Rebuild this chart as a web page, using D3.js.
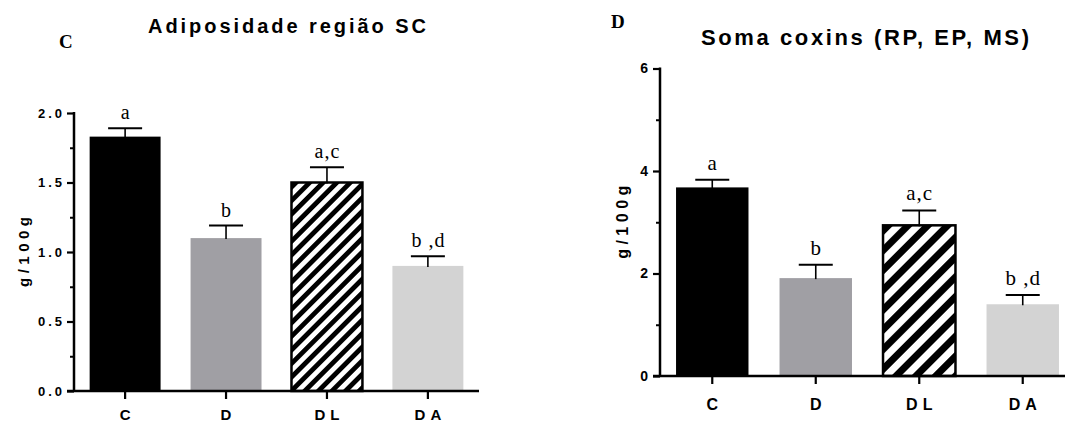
<!DOCTYPE html>
<html>
<head>
<meta charset="utf-8">
<script src="https://cdn.jsdelivr.net/npm/d3@7"></script>
<style>
  html, body { margin: 0; padding: 0; background: #fff; }
  svg { display: block; }
  .sans { font-family: "Liberation Sans", Arial, sans-serif; font-weight: bold; }
  .serif { font-family: "Liberation Serif", "Times New Roman", serif; }
</style>
</head>
<body>
<svg id="chart" width="1065" height="423"></svg>
<script>
// Groups on the x axis
const groups = ["C", "D", "DL", "DA"];

// Panel C: subcutaneous adiposity (g/100g), mean and SEM
const adiposMeans = [1.83, 1.10, 1.50, 0.90];
const adiposErr = [0.06, 0.09, 0.11, 0.07];
const adiposLetters = ["a", "b", "a,c", "b ,d"];
const adiposTicks = [0, 0.5, 1.0, 1.5, 2.0];
const adiposMinor = [0.25, 0.75, 1.25, 1.75];

// Panel D: sum of thigh-region pads RP, EP, MS (g/100g)
const coxinsMeans = [3.68, 1.91, 2.94, 1.40];
const coxinsErr = [0.15, 0.26, 0.29, 0.18];
const coxinsLetters = ["a", "b", "a,c", "b ,d"];
const coxinsTicks = [0, 2, 4, 6];
const coxinsMinor = [1, 3, 5];

const svg = d3.select("#chart");
const defs = svg.append("defs");

function hatch(id, period) {
  const p = defs.append("pattern")
    .attr("id", id)
    .attr("patternUnits", "userSpaceOnUse")
    .attr("width", period).attr("height", period)
    .attr("patternTransform", "rotate(45)");
  p.append("rect").attr("width", period).attr("height", period).attr("fill", "#fff");
  p.append("rect").attr("width", period / 2).attr("height", period).attr("fill", "#000");
}
hatch("hatchC", 9.6);
hatch("hatchD", 14);

function fills(hatchId) {
  return ["#000", "#a09fa4", `url(#${hatchId})`, "#d3d3d3"];
}

function drawPanel(o) {
  const g = svg.append("g");
  const x = d3.scaleBand().domain(groups)
    .range([o.x0, o.x1]).paddingInner(o.padIn).paddingOuter(o.padOut);
  const y = d3.scaleLinear().domain(o.domain).range([o.y0, o.y1]);
  const data = groups.map((k, i) => ({ k, v: o.means[i], e: o.errs[i], lab: o.letters[i] }));
  const fill = fills(o.hatchId);
  const cx = d => x(d.k) + x.bandwidth() / 2;

  // bars
  g.selectAll("rect.bar").data(data).join("rect")
    .attr("class", "bar")
    .attr("x", d => x(d.k))
    .attr("width", x.bandwidth())
    .attr("y", d => y(d.v))
    .attr("height", d => y(0) - y(d.v))
    .attr("fill", (d, i) => fill[i])
    .attr("stroke", (d, i) => i === 2 ? "#000" : "none")
    .attr("stroke-width", 2.5);

  // upper error bars
  const eb = g.selectAll("g.err").data(data).join("g").attr("class", "err");
  eb.append("line")
    .attr("x1", cx).attr("x2", cx)
    .attr("y1", d => y(d.v) + 1).attr("y2", d => y(d.v + d.e))
    .attr("stroke", "#000").attr("stroke-width", 1.6);
  eb.append("line")
    .attr("x1", d => cx(d) - 17).attr("x2", d => cx(d) + 17)
    .attr("y1", d => y(d.v + d.e)).attr("y2", d => y(d.v + d.e))
    .attr("stroke", "#000").attr("stroke-width", 2);

  // significance letters
  g.selectAll("text.sig").data(data).join("text")
    .attr("class", "serif sig")
    .attr("x", d => cx(d) + 0.5)
    .attr("y", d => y(d.v + d.e) - o.sigGap)
    .attr("text-anchor", "middle")
    .attr("font-size", o.sigSize)
    .attr("letter-spacing", 1)
    .text(d => d.lab);

  // y axis
  const yAxis = d3.axisLeft(y).tickValues(o.ticks).tickSize(7).tickPadding(5)
    .tickFormat(o.fmt);
  const ya = g.append("g").attr("transform", `translate(${o.x0},0)`).call(yAxis);
  ya.select(".domain").remove();
  ya.selectAll(".tick line").attr("stroke", "#000").attr("stroke-width", 2.2);
  ya.selectAll(".tick text")
    .attr("class", "sans")
    .attr("font-size", o.tickSize)
    .attr("letter-spacing", o.tickLs)
    .attr("dx", o.tickLs)
    .attr("fill", "#000");
  g.append("g").attr("transform", `translate(${o.x0},0)`)
    .call(d3.axisLeft(y).tickValues(o.minor).tickSize(4).tickFormat(""))
    .call(s => s.select(".domain").remove())
    .selectAll(".tick line").attr("stroke", "#000").attr("stroke-width", 2);
  g.append("line")
    .attr("x1", o.x0).attr("x2", o.x0)
    .attr("y1", y(o.domain[0]) + 1).attr("y2", y(o.domain[1]) - 1)
    .attr("stroke", "#000").attr("stroke-width", 2.5);

  // x axis
  g.append("line")
    .attr("x1", o.x0 - 7).attr("x2", o.x1)
    .attr("y1", y(0)).attr("y2", y(0))
    .attr("stroke", "#000").attr("stroke-width", 2.5);
  const xa = g.append("g").attr("transform", `translate(0,${y(0)})`)
    .call(d3.axisBottom(x).tickSize(8).tickPadding(0));
  xa.select(".domain").remove();
  xa.selectAll(".tick line").attr("stroke", "#000").attr("stroke-width", 2.2);
  xa.selectAll(".tick text")
    .attr("class", "sans")
    .attr("font-size", o.xSize)
    .attr("letter-spacing", o.xLs)
    .attr("dx", o.xLs / 2)
    .attr("dy", 0)
    .attr("y", o.xLabelY - y(0))
    .attr("fill", "#000");

  // y label
  g.append("text")
    .attr("class", "sans")
    .attr("transform", `translate(${o.yLabelX},${(y(o.domain[0]) + y(o.domain[1])) / 2}) rotate(-90)`)
    .attr("text-anchor", "middle")
    .attr("font-size", o.yLabelSize)
    .attr("letter-spacing", 4.5)
    .attr("dx", 2.25)
    .text("g/100g");

  // title and panel letter
  g.append("text")
    .attr("class", "sans")
    .attr("x", o.titleX).attr("y", o.titleY)
    .attr("font-size", o.titleSize)
    .attr("letter-spacing", o.titleLs)
    .text(o.title);
  g.append("text")
    .attr("class", "serif")
    .attr("font-weight", "bold")
    .attr("x", o.panelX).attr("y", o.panelY)
    .attr("font-size", 19)
    .text(o.panel);
}

drawPanel({
  means: adiposMeans, errs: adiposErr, letters: adiposLetters,
  ticks: adiposTicks, minor: adiposMinor, fmt: d3.format(".1f"),
  domain: [0, 2], y0: 391, y1: 113,
  x0: 74, x1: 479, padIn: 0.297, padOut: 0.155,
  hatchId: "hatchC", sigSize: 20, sigGap: 9,
  tickSize: 13, tickLs: 3, xSize: 15, xLs: 5, xLabelY: 419.5,
  yLabelX: 28.5, yLabelSize: 15,
  title: "Adiposidade região SC", titleX: 148, titleY: 33, titleSize: 20, titleLs: 2.95,
  panel: "C", panelX: 59, panelY: 48
});

drawPanel({
  means: coxinsMeans, errs: coxinsErr, letters: coxinsLetters,
  ticks: coxinsTicks, minor: coxinsMinor, fmt: d3.format("d"),
  domain: [0, 6], y0: 376, y1: 68.5,
  x0: 660, x1: 1075, padIn: 0.30, padOut: 0.155,
  hatchId: "hatchD", sigSize: 21, sigGap: 10,
  tickSize: 14, tickLs: 3, xSize: 16, xLs: 5, xLabelY: 410,
  yLabelX: 628, yLabelSize: 16,
  title: "Soma coxins (RP, EP, MS)", titleX: 701, titleY: 45, titleSize: 22, titleLs: 2.6,
  panel: "D", panelX: 611, panelY: 27.5
});
</script>
</body>
</html>
